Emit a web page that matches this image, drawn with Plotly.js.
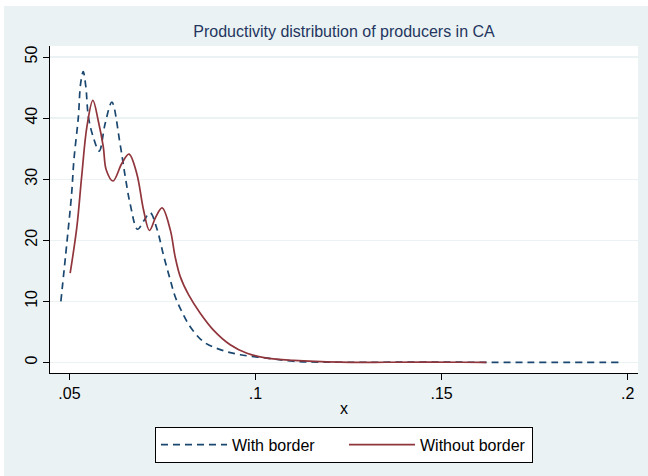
<!DOCTYPE html>
<html>
<head>
<meta charset="utf-8">
<script src="https://cdn.plot.ly/plotly-3.0.1.min.js"></script>
<style>
  html, body { margin: 0; padding: 0; background: #ffffff; }
  #chart { position: absolute; left: 4px; top: 6px; width: 644px; height: 470px; }
</style>
</head>
<body>
<div id="chart"></div>
<script>
// With border (dashed navy)
const withBorderX = [0.0477, 0.0493, 0.0506, 0.0512, 0.0524, 0.0530, 0.0537, 0.0544, 0.0551, 0.0564, 0.0580, 0.0596, 0.0614, 0.0636, 0.0650, 0.0663, 0.0683, 0.0700, 0.0717, 0.0735, 0.0753, 0.0771, 0.0784, 0.0802, 0.0824, 0.0860, 0.0905, 0.0959, 0.1031, 0.1102, 0.1180, 0.1300, 0.1460, 0.1650, 0.1800, 0.1978];
const withBorderY = [10.0, 19.5, 27.7, 33.1, 40.2, 45.6, 47.6, 45.2, 40.2, 36.9, 34.6, 39.1, 42.6, 35.8, 30.4, 26.0, 21.8, 23.2, 24.5, 21.9, 17.5, 13.5, 10.8, 8.3, 5.9, 3.4, 2.1, 1.26, 0.7, 0.2, 0.05, 0.03, 0.05, 0.02, 0.01, 0.01];

// Without border (solid maroon)
const withoutBorderX = [0.0502, 0.0520, 0.0533, 0.0547, 0.0563, 0.0578, 0.0591, 0.0599, 0.0617, 0.0641, 0.0660, 0.0681, 0.0699, 0.0715, 0.0732, 0.0749, 0.0771, 0.0784, 0.0798, 0.0820, 0.0851, 0.0887, 0.0932, 0.0977, 0.1031, 0.1102, 0.1228, 0.1350, 0.1460, 0.1550, 0.1620];
const withoutBorderY = [14.6, 22.2, 30.5, 38.6, 42.9, 39.4, 35.3, 31.5, 29.7, 32.6, 34.1, 30.9, 25.0, 21.6, 23.8, 25.3, 21.7, 17.3, 14.0, 11.1, 8.1, 5.3, 2.9, 1.5, 0.7, 0.33, 0.05, 0.03, 0.06, 0.03, 0.02];

const xTickVals = [0.05, 0.1, 0.15, 0.2];
const xTickText = [".05", ".1", ".15", ".2"];
const yTickVals = [0, 10, 20, 30, 40, 50];
const yTickText = ["0", "10", "20", "30", "40", "50"];

const seriesNames = ["With border", "Without border"];
const titleText = "Productivity distribution of producers in CA";

const FONT = "Liberation Sans, Arial, Helvetica, sans-serif";

const traces = [
  {
    x: withBorderX, y: withBorderY, name: seriesNames[0],
    type: "scatter", mode: "lines",
    line: { color: "#1a476f", width: 1.7, dash: "7px,5px", shape: "spline", smoothing: 1 },
    hoverinfo: "skip"
  },
  {
    x: withoutBorderX, y: withoutBorderY, name: seriesNames[1],
    type: "scatter", mode: "lines",
    line: { color: "#90353b", width: 1.7, shape: "spline", smoothing: 1 },
    hoverinfo: "skip"
  }
];

const layout = {
  width: 644, height: 470,
  margin: { l: 46, r: 10, t: 40, b: 103, pad: 0 },
  paper_bgcolor: "#eaf2f3",
  plot_bgcolor: "#ffffff",
  font: { family: FONT, size: 16, color: "#000000" },
  title: {
    text: titleText,
    font: { family: FONT, size: 16, color: "#243660" },
    x: 0.5, xref: "paper", xanchor: "center",
    y: 0.9457, yref: "container", yanchor: "middle"
  },
  xaxis: {
    range: [0.04478, 0.20277],
    tickvals: xTickVals, ticktext: xTickText,
    ticks: "outside", ticklen: 6, tickwidth: 1, tickcolor: "#000000",
    showline: true, linecolor: "#000000", linewidth: 1,
    showgrid: false, zeroline: false,
    title: { text: "x", font: { family: FONT, size: 16, color: "#000000" }, standoff: 1 },
    tickfont: { family: FONT, size: 16, color: "#000000" }
  },
  yaxis: {
    range: [-1.73, 51.8],
    tickvals: yTickVals, ticktext: yTickText,
    ticks: "outside", ticklen: 6, tickwidth: 1, tickcolor: "#000000",
    showline: true, linecolor: "#000000", linewidth: 1,
    showgrid: true, gridcolor: "#eaf2f3", gridwidth: 1.2,
    zeroline: false, tickangle: -90,
    tickfont: { family: FONT, size: 16, color: "#000000" }
  },
  showlegend: true,
  legend: {
    orientation: "h",
    x: 0.5, xanchor: "center",
    y: -0.164, yanchor: "top",
    bgcolor: "#ffffff", bordercolor: "#000000", borderwidth: 1,
    font: { family: FONT, size: 16, color: "#000000" },
    itemwidth: 66,
    entrywidth: 107,
    tracegroupgap: 0
  }
};

Plotly.newPlot("chart", traces, layout, { staticPlot: true, displayModeBar: false });
</script>
</body>
</html>
